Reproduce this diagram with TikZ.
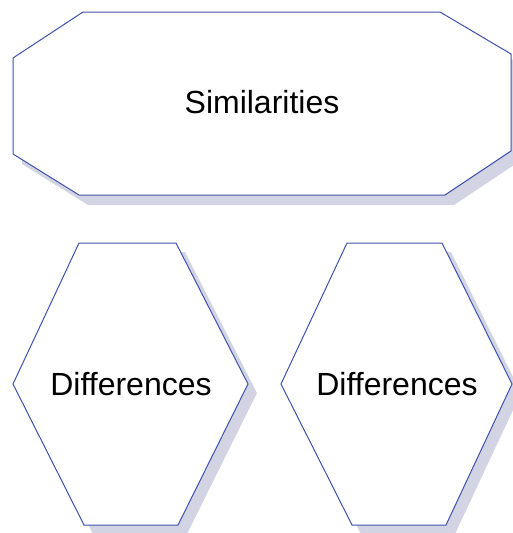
\documentclass[tikz,border=0pt]{standalone}
\usepackage{fontspec}
\setmainfont{Liberation Sans}
\definecolor{edgeblue}{RGB}{62,82,170}
\definecolor{shadowc}{RGB}{210,212,228}
\tikzset{
  outlineshape/.style={draw=edgeblue, line width=1pt, fill=white, line join=miter},
  shadowfill/.style={fill=shadowc, draw=none},
  txtlabel/.style={font=\fontsize{32}{36}\selectfont, text=black, inner sep=0pt}
}
\begin{document}
\begin{tikzpicture}[x=1pt,y=-1pt]
\useasboundingbox (0,0) rectangle (512,533);
% octagon
\fill[shadowfill, shift={(9,10)}] (83,12) -- (440,12) -- (511,54) -- (511,151) -- (445,195) -- (79,195) -- (13,154) -- (13,58) -- cycle;
\draw[outlineshape] (83,12) -- (440,12) -- (511,54) -- (511,151) -- (445,195) -- (79,195) -- (13,154) -- (13,58) -- cycle;
\node[txtlabel] (sim) at (262,102) {Similarities};
% hexagon 1
\fill[shadowfill, shift={(9,9)}] (79,243) -- (176,243) -- (248,384) -- (178,525) -- (84,525) -- (13,384) -- cycle;
\draw[outlineshape] (79,243) -- (176,243) -- (248,384) -- (178,525) -- (84,525) -- (13,384) -- cycle;
\node[txtlabel] (d1) at (131,384) {Differences};
% hexagon 2
\fill[shadowfill, shift={(9,9)}] (347,243) -- (442,243) -- (512,384) -- (446,525) -- (352,525) -- (281,384) -- cycle;
\draw[outlineshape] (347,243) -- (442,243) -- (512,384) -- (446,525) -- (352,525) -- (281,384) -- cycle;
\node[txtlabel] (d2) at (397,384) {Differences};
\end{tikzpicture}
\end{document}
